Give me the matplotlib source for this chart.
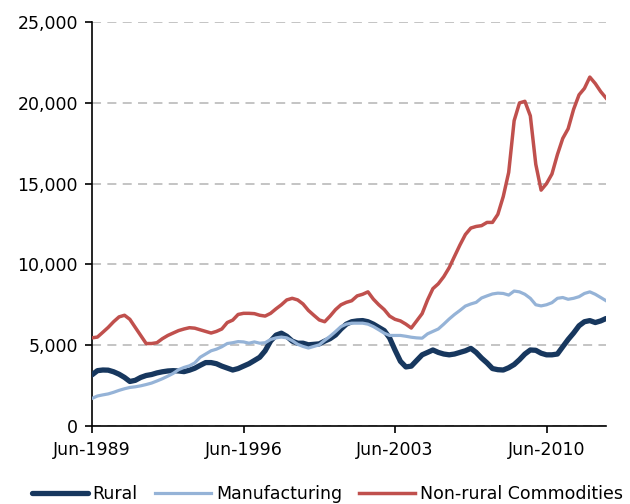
import numpy as np
import pandas as pd
import matplotlib
matplotlib.use('Agg')
import matplotlib.pyplot as plt
from matplotlib.ticker import FuncFormatter

# quarterly, Jun-1989 .. Mar-2013
dates = pd.date_range('1989-06-30', periods=96, freq='QE')

rural = [3.16, 3.42, 3.46, 3.45, 3.35, 3.2, 3.0, 2.75, 2.82, 3.0,
         3.12, 3.18, 3.28, 3.35, 3.4, 3.42, 3.4, 3.36, 3.45, 3.57,
         3.75, 3.92, 3.92, 3.85, 3.7, 3.58, 3.46, 3.55, 3.7, 3.85,
         4.05, 4.25, 4.65, 5.25, 5.62, 5.74, 5.55, 5.25, 5.12, 5.12,
         5.02, 5.05, 5.08, 5.25, 5.4, 5.63, 6.0, 6.3, 6.45, 6.5,
         6.52, 6.45, 6.3, 6.1, 5.9, 5.45, 4.7, 4.0, 3.65, 3.7,
         4.05, 4.4, 4.55, 4.7, 4.55, 4.45, 4.4, 4.45, 4.55, 4.65,
         4.8, 4.55, 4.2, 3.9, 3.55, 3.48, 3.46, 3.6, 3.8, 4.1,
         4.45, 4.7, 4.68, 4.5, 4.4, 4.4, 4.45, 4.9, 5.35, 5.75,
         6.2, 6.45, 6.52, 6.4, 6.5, 6.65]

manufacturing = [1.7, 1.85, 1.92, 1.98, 2.08, 2.2, 2.3, 2.38, 2.42, 2.48,
                 2.56, 2.65, 2.78, 2.92, 3.08, 3.25, 3.48, 3.62, 3.72, 3.9,
                 4.25, 4.45, 4.65, 4.75, 4.9, 5.1, 5.15, 5.22, 5.2, 5.12,
                 5.2, 5.12, 5.15, 5.35, 5.45, 5.5, 5.45, 5.28, 5.05, 4.92,
                 4.82, 4.92, 5.02, 5.3, 5.55, 5.84, 6.15, 6.3, 6.36, 6.36,
                 6.36, 6.3, 6.15, 5.95, 5.74, 5.6, 5.6, 5.6, 5.55, 5.49,
                 5.45, 5.43, 5.7, 5.85, 6.0, 6.3, 6.62, 6.9, 7.15, 7.42,
                 7.55, 7.65, 7.92, 8.05, 8.17, 8.22, 8.2, 8.1, 8.35, 8.3,
                 8.15, 7.9, 7.5, 7.43, 7.5, 7.63, 7.9, 7.95, 7.84, 7.9,
                 8.0, 8.2, 8.3, 8.15, 7.95, 7.75]

non_rural = [5.45, 5.5, 5.8, 6.1, 6.45, 6.75, 6.85, 6.6, 6.1, 5.6,
             5.1, 5.1, 5.15, 5.4, 5.6, 5.75, 5.9, 6.0, 6.08, 6.05,
             5.95, 5.85, 5.75, 5.85, 6.0, 6.4, 6.55, 6.9, 6.97, 6.97,
             6.95, 6.85, 6.8, 6.97, 7.25, 7.5, 7.8, 7.9, 7.8, 7.55,
             7.15, 6.85, 6.56, 6.45, 6.8, 7.2, 7.5, 7.65, 7.75, 8.05,
             8.15, 8.3, 7.85, 7.5, 7.2, 6.8, 6.6, 6.5, 6.3, 6.06,
             6.5, 6.95, 7.8, 8.5, 8.8, 9.24, 9.8, 10.5, 11.2, 11.85,
             12.25, 12.35, 12.4, 12.6, 12.6, 13.1, 14.2, 15.7, 18.9, 20.0,
             20.1, 19.2, 16.2, 14.6, 15.0, 15.6, 16.8, 17.8, 18.4, 19.6,
             20.5, 20.9, 21.6, 21.2, 20.7, 20.3]

tick_dates = pd.to_datetime(['1989-06-30', '1996-06-30', '2003-06-30', '2010-06-30'])
tick_labels = ['Jun-1989', 'Jun-1996', 'Jun-2003', 'Jun-2010']

plt.rcParams['font.family'] = 'DejaVu Sans'

fig = plt.figure(figsize=(6.3, 5.04), dpi=100)
ax = fig.add_axes([0.146, 0.155, 0.816, 0.801])

ax.plot(dates, np.array(rural) * 1000, color='#17375E', lw=3.8,
        solid_capstyle='round', label='Rural', zorder=3)
ax.plot(dates, np.array(manufacturing) * 1000, color='#95B3D7', lw=2.3,
        label='Manufacturing', zorder=3)
ax.plot(dates, np.array(non_rural) * 1000, color='#C0504D', lw=2.5,
        label='Non-rural Commodities', zorder=3)

ax.set_ylim(0, 25000)
ax.set_xlim(dates[0], dates[-1])
ax.set_yticks(np.arange(0, 25001, 5000))
ax.yaxis.set_major_formatter(FuncFormatter(lambda v, p: f'{int(v):,}'))
ax.set_xticks(tick_dates)
ax.set_xticklabels(tick_labels)

ax.yaxis.grid(True, color='#BFBFBF', lw=1.3, linestyle=(0, (5, 3.5)))
ax.set_axisbelow(True)

for s in ['top', 'right']:
    ax.spines[s].set_visible(False)
for s in ['left', 'bottom']:
    ax.spines[s].set_linewidth(1.2)
ax.tick_params(axis='both', length=5, width=1.2, labelsize=12.5, colors='black')
ax.tick_params(axis='x', pad=6)
ax.tick_params(axis='y', pad=5)

fig.legend(loc='lower center', bbox_to_anchor=(0.52, -0.03), ncol=3,
           frameon=False, fontsize=12.5, handlelength=3.2, columnspacing=1.0,
           handletextpad=0.3)

fig.savefig('out.png', dpi=100)
